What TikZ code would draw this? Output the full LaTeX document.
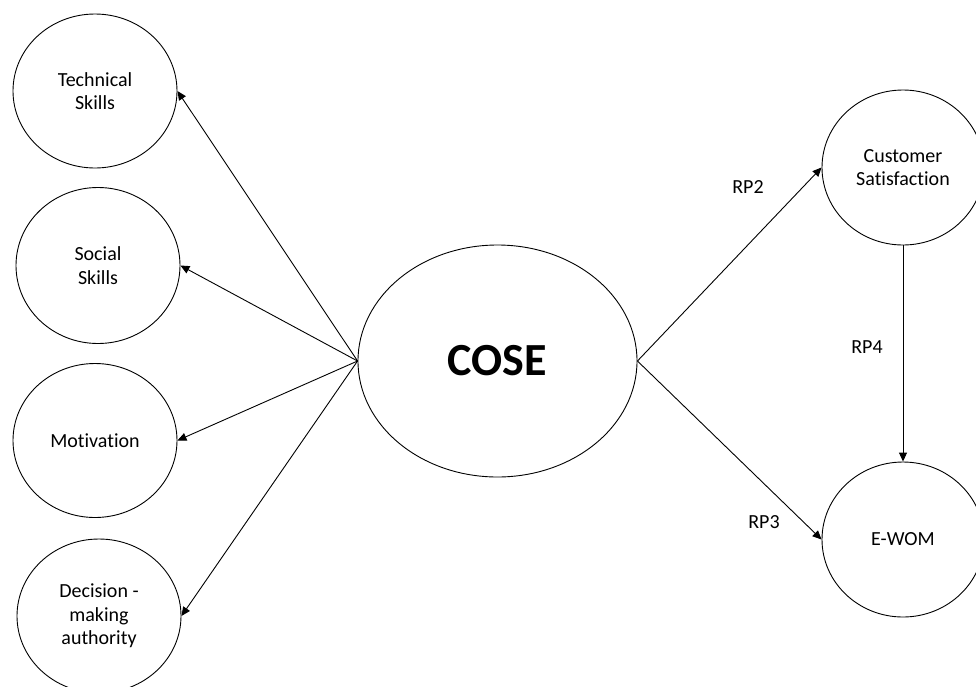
\documentclass[tikz,border=0pt]{standalone}
\usepackage{fontspec}
\setmainfont{Carlito}[Ligatures=NoCommon]
\usetikzlibrary{shapes.geometric,arrows.meta}
\begin{document}
\begin{tikzpicture}[x=1pt,y=-1pt,
  bubble/.style={draw,ellipse,line width=0.9pt,inner sep=0pt,align=center,
    font=\fontsize{20}{23.5}\selectfont,minimum width=164pt,minimum height=154pt},
  conn/.style={line width=0.9pt,-{Triangle[length=9pt,width=8pt]}},
  lbl/.style={font=\fontsize{20}{23.5}\selectfont}]
\useasboundingbox (0,0) rectangle (976,686);
\node[bubble] (tech) at (95,91) {Technical\\Skills};
\node[bubble,minimum height=156pt] (soc) at (98,265.5) {Social\\Skills};
\node[bubble] (mot) at (95,440.5) {Motivation};
\node[bubble] (dec) at (99,616) {Decision -\\making\\authority};
\node[draw,ellipse,line width=0.9pt,inner sep=0pt,minimum width=279pt,minimum height=232pt,
  font=\fontsize{46}{50}\selectfont\bfseries] (cose) at (497.5,361) {COSE};
\node[bubble,minimum width=162pt,minimum height=155pt] (cs) at (903,167.5) {Customer\\Satisfaction};
\node[bubble,minimum width=162pt,minimum height=155pt] (ewom) at (903,539.5) {E-WOM};
\draw[conn] (cose.west) -- (tech.east);
\draw[conn] (cose.west) -- (soc.east);
\draw[conn] (cose.west) -- (mot.east);
\draw[conn] (cose.west) -- (dec.east);
\draw[conn] (cose.east) -- (cs.west);
\draw[conn] (cose.east) -- (ewom.west);
\draw[conn] (cs.south) -- (ewom.north);
\node[lbl] (rp2) at (748,187) {RP2};
\node[lbl] (rp4) at (867,347) {RP4};
\node[lbl] (rp3) at (764,522) {RP3};
\end{tikzpicture}
\end{document}
